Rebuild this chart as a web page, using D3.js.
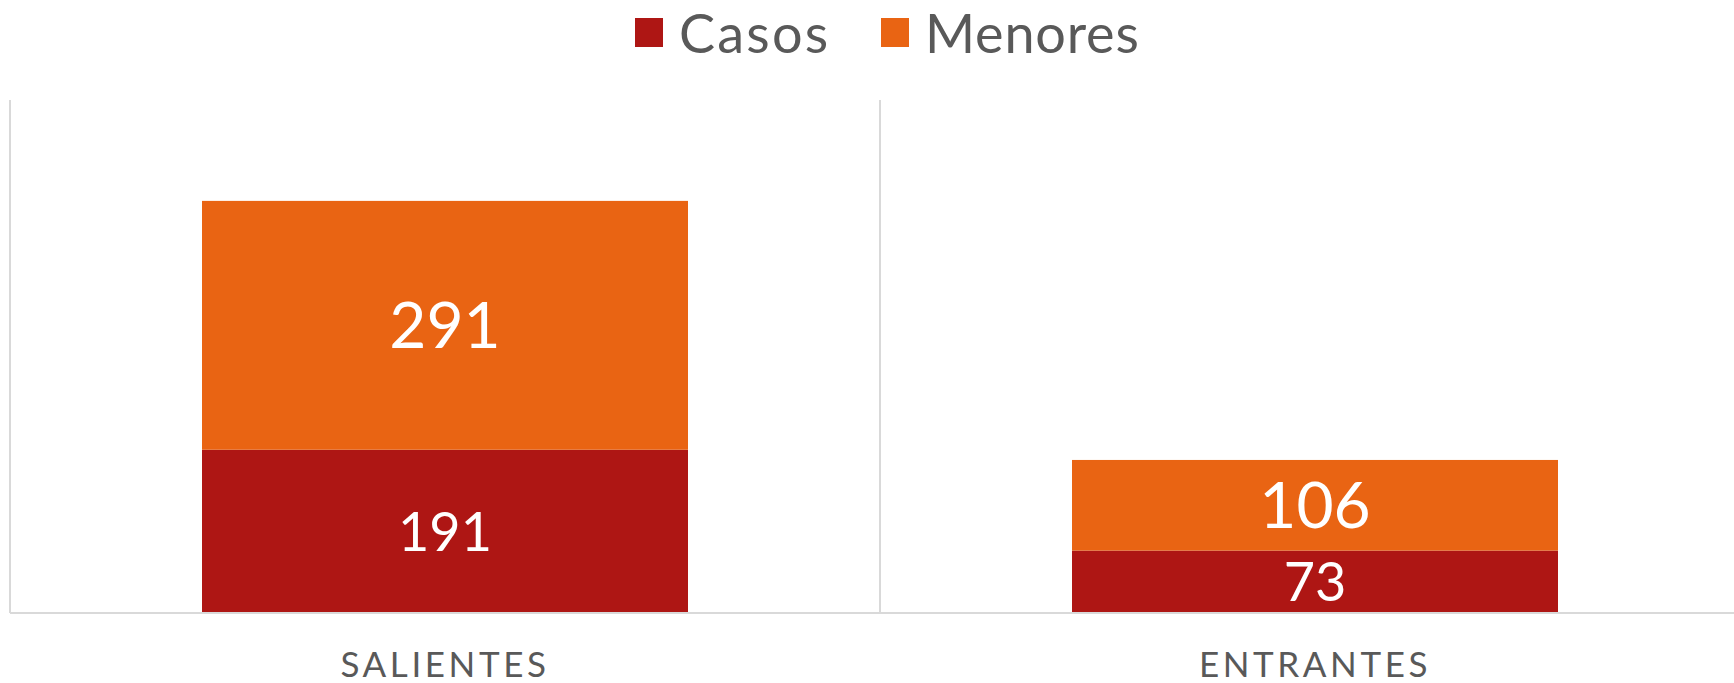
<!DOCTYPE html>
<html>
<head>
<meta charset="utf-8">
<script src="https://cdn.jsdelivr.net/npm/d3@7"></script>
<style>
  body { margin: 0; background: #fff; }
  svg { display: block; font-family: "Century Gothic", Lato, "Open Sans", sans-serif; }
</style>
</head>
<body>
<div id="chart"></div>
<script>
// data
var categories = ["SALIENTES", "ENTRANTES"];
var seriesNames = ["Casos", "Menores"];
var casos = [191, 73];
var menores = [291, 106];
var colors = ["#AE1614", "#E96413"];

var width = 1734, height = 683;
var margin = {top: 100, left: 10, bottom: 70};
var plotBottom = height - margin.bottom;   // baseline

var svg = d3.select("#chart")
    .append("svg")
    .attr("width", width)
    .attr("height", height);

// build rows for the stack
var rows = categories.map(function(c, i) {
    return {cat: c, Casos: casos[i], Menores: menores[i]};
});
var stacked = d3.stack().keys(seriesNames)(rows);

// x: each category band is 870px, the plot runs past the right edge
var x = d3.scaleBand()
    .domain(categories)
    .range([margin.left, margin.left + 1740])
    .paddingInner(0.4414)
    .paddingOuter(0.2207);

var y = d3.scaleLinear()
    .domain([0, 600])
    .range([plotBottom, margin.top]);

// vertical category separators
var step = x.step();
var seps = d3.range(categories.length + 1).map(function(i) { return margin.left + i * step; });
svg.selectAll("line.sep")
    .data(seps)
    .enter()
    .append("line")
        .attr("class", "sep")
        .attr("x1", function(d) { return d; })
        .attr("x2", function(d) { return d; })
        .attr("y1", y(600))
        .attr("y2", plotBottom)
        .attr("stroke", "#d9d9d9")
        .attr("stroke-width", 2);

// bars
var layer = svg.selectAll("g.layer")
    .data(stacked)
    .enter()
    .append("g")
        .attr("class", "layer")
        .attr("fill", function(d, i) { return colors[i]; });

layer.selectAll("rect")
    .data(function(d) { return d; })
    .enter()
    .append("rect")
        .attr("x", function(d) { return x(d.data.cat); })
        .attr("y", function(d) { return y(d[1]); })
        .attr("width", x.bandwidth())
        .attr("height", function(d) { return y(d[0]) - y(d[1]); });

// value labels
layer.each(function(s, si) {
    d3.select(this).selectAll("text")
        .data(s)
        .enter()
        .append("text")
            .attr("x", function(d) { return x(d.data.cat) + x.bandwidth() / 2; })
            .attr("y", function(d) { return (y(d[0]) + y(d[1])) / 2; })
            .attr("dy", "0.36em")
            .attr("text-anchor", "middle")
            .attr("fill", "#fff")
            .attr("font-size", si === 0 ? 54 : 64)
            .text(function(d) { return d[1] - d[0]; });
});

// baseline
svg.append("line")
    .attr("x1", margin.left)
    .attr("x2", width)
    .attr("y1", plotBottom)
    .attr("y2", plotBottom)
    .attr("stroke", "#d9d9d9")
    .attr("stroke-width", 2);

// category axis labels
svg.selectAll("text.cat")
    .data(categories)
    .enter()
    .append("text")
        .attr("class", "cat")
        .attr("x", function(d) { return x(d) + x.bandwidth() / 2; })
        .attr("y", 677)
        .attr("text-anchor", "middle")
        .attr("fill", "#595959")
        .attr("font-size", 35)
        .attr("letter-spacing", "3.6px")
        .text(function(d) { return d; });

// legend
var legendX = [635, 881];
var legend = svg.selectAll("g.legend")
    .data(seriesNames)
    .enter()
    .append("g")
        .attr("class", "legend")
        .attr("transform", function(d, i) { return "translate(" + legendX[i] + ",0)"; });
legend.append("rect")
    .attr("x", 0)
    .attr("y", 18)
    .attr("width", 28)
    .attr("height", 29)
    .attr("fill", function(d, i) { return colors[i]; });
legend.append("text")
    .attr("x", 44)
    .attr("y", 53)
    .attr("fill", "#595959")
    .attr("font-size", 54)
    .attr("letter-spacing", function(d, i) { return i === 0 ? "2.2px" : "0.8px"; })
    .text(function(d) { return d; });
</script>
</body>
</html>
